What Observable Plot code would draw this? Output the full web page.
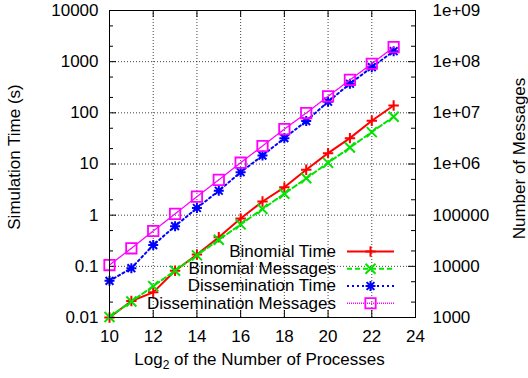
<!DOCTYPE html>
<html>
<head>
<meta charset="utf-8">
<script src="https://cdn.jsdelivr.net/npm/d3@7"></script>
<script src="https://cdn.jsdelivr.net/npm/@observablehq/plot@0.6"></script>
<style>
  html, body { margin: 0; padding: 0; background: #fff; }
  #chart svg { font-family: "Liberation Sans", Arial, Helvetica, sans-serif; }
</style>
</head>
<body>
<div id="chart"></div>
<script>
// log2 of the number of processes
const log2Procs = [10, 11, 12, 13, 14, 15, 16, 17, 18, 19, 20, 21, 22, 23];

// simulation time, seconds (left axis)
const binomialTime      = [0.01, 0.021, 0.031, 0.082, 0.17, 0.37, 0.86, 1.85, 3.5, 7.7, 16.3, 32, 70, 139];
const disseminationTime = [0.052, 0.092, 0.26, 0.61, 1.38, 3.0, 6.9, 14.6, 32, 69, 165, 370, 780, 1600];

// number of messages (right axis)
const binomialMessages      = [1020, 2050, 4100, 8200, 16400, 33000, 66000, 132000, 262000, 525000, 1.05e6, 2.1e6, 4.2e6, 8.4e6];
const disseminationMessages = [10600, 22500, 49000, 106000, 230000, 490000, 1.06e6, 2.25e6, 4.8e6, 9.9e6, 2.1e7, 4.4e7, 9.1e7, 1.92e8];

const seriesNames = ["Binomial Time", "Binomial Messages", "Dissemination Time", "Dissemination Messages"];

// axis ticks
const xTicks = [10, 12, 14, 16, 18, 20, 22, 24];
const timeTicks = [0.01, 0.1, 1, 10, 100, 1000, 10000];
const timeTickLabels = ["0.01", "0.1", "1", "10", "100", "1000", "10000"];
const messageTickLabels = ["1000", "10000", "100000", "1e+06", "1e+07", "1e+08", "1e+09"];
const minorTicks = [0.02, 0.05, 0.2, 0.5, 2, 5, 20, 50, 200, 500, 2000, 5000];

// the right axis reads 1e5 times the left one (1000 messages at 0.01 s)
const messagesPerSecondUnit = 1e5;

const xTitle = "Log2 of the Number of Processes";
const yTitle = "Simulation Time (s)";
const y2Title = "Number of Messages";

// ---- layout ----
const W = 528, H = 378;
const mL = 109, mR = 113, mT = 10, mB = 61;
const plotW = W - mL - mR, plotH = H - mT - mB;
const FONT = "Liberation Sans, Arial, Helvetica, sans-serif";

// gnuplot-like point shapes
function symbolPath(kind) {
  return {
    draw(ctx, size) {
      const r = Math.sqrt(size / Math.PI);
      if (kind === "plus" || kind === "star") {
        ctx.moveTo(-r, 0); ctx.lineTo(r, 0);
        ctx.moveTo(0, -r); ctx.lineTo(0, r);
      }
      if (kind === "times" || kind === "star") {
        const t = kind === "star" ? r * 0.78 : r;
        ctx.moveTo(-t, -t); ctx.lineTo(t, t);
        ctx.moveTo(-t, t); ctx.lineTo(t, -t);
      }
      if (kind === "square") {
        ctx.moveTo(-r, -r); ctx.lineTo(r, -r); ctx.lineTo(r, r); ctx.lineTo(-r, r); ctx.closePath();
      }
    }
  };
}

const styles = {
  "Binomial Time":          {stroke: "#ff0000", dash: null,  width: 2,   symbol: "plus",   r: 5.2, sw: 2},
  "Binomial Messages":      {stroke: "#00e400", dash: "5,3", width: 2,   symbol: "times",  r: 5,   sw: 2},
  "Dissemination Time":     {stroke: "#0000ff", dash: "2,3", width: 2,   symbol: "star",   r: 5,   sw: 2},
  "Dissemination Messages": {stroke: "#ff00ff", dash: "1,1", width: 1.3, symbol: "square", r: 5.2, sw: 1.8}
};

// table of points, messages expressed on the time scale
const seriesValues = [binomialTime, binomialMessages, disseminationTime, disseminationMessages];
const rows = [];
seriesNames.forEach((name, s) => {
  const isMsg = name.endsWith("Messages");
  seriesValues[s].forEach((v, i) => {
    rows.push({series: name, n: log2Procs[i], value: v, y: isMsg ? v / messagesPerSecondUnit : v});
  });
});

const seriesMarks = [];
for (const name of seriesNames) {
  const st = styles[name];
  const data = rows.filter(d => d.series === name);
  seriesMarks.push(Plot.line(data, {
    x: "n", y: "y", stroke: st.stroke, strokeWidth: st.width,
    strokeDasharray: st.dash, curve: "linear"
  }));
  seriesMarks.push(Plot.dot(data, {
    x: "n", y: "y", stroke: st.stroke, strokeWidth: st.sw, fill: "none",
    symbol: symbolPath(st.symbol), r: st.r
  }));
}

const tickStyle = {stroke: "#000", strokeWidth: 1};

const svg = Plot.plot({
  width: W, height: H,
  marginLeft: mL, marginRight: mR, marginTop: mT, marginBottom: mB,
  style: {fontFamily: FONT, fontSize: "17px", color: "#000", background: "#fff", overflow: "visible"},
  x: {domain: [10, 24]},
  y: {type: "log", domain: [0.01, 10000]},
  marks: [
    Plot.gridX(xTicks.slice(1, -1), {stroke: "#000", strokeOpacity: 0.75, strokeDasharray: "1,2", strokeWidth: 1}),
    Plot.gridY(timeTicks.slice(1, -1), {stroke: "#000", strokeOpacity: 0.75, strokeDasharray: "1,2", strokeWidth: 1}),
    // inward ticks on all four sides
    Plot.ruleY(timeTicks, {...tickStyle, insetRight: plotW - 7}),
    Plot.ruleY(timeTicks, {...tickStyle, insetLeft: plotW - 7}),
    Plot.ruleY(minorTicks, {...tickStyle, insetRight: plotW - 4}),
    Plot.ruleY(minorTicks, {...tickStyle, insetLeft: plotW - 4}),
    Plot.ruleX(xTicks, {...tickStyle, insetTop: plotH - 7}),
    Plot.ruleX(xTicks, {...tickStyle, insetBottom: plotH - 7}),
    Plot.axisY(timeTicks, {anchor: "left", tickSize: 0, tickPadding: 11, label: null,
      tickFormat: d => timeTickLabels[timeTicks.indexOf(d)]}),
    Plot.axisY(timeTicks, {anchor: "right", tickSize: 0, tickPadding: 17, label: null,
      tickFormat: d => messageTickLabels[timeTicks.indexOf(d)]}),
    Plot.axisX(xTicks, {anchor: "bottom", tickSize: 0, tickPadding: 12, label: null}),
    ...seriesMarks,
    Plot.frame({stroke: "#000", strokeWidth: 1}),
    Plot.text([yTitle], {text: d => d, frameAnchor: "left", rotate: -90, dx: -94.5, dy: -7,
      textAnchor: "middle", lineAnchor: "middle", fontSize: 17}),
    Plot.text([y2Title], {text: d => d, frameAnchor: "right", rotate: -90, dx: 104.5, dy: -5.5,
      textAnchor: "middle", lineAnchor: "middle", fontSize: 17}),
    Plot.text([xTitle], {text: d => d, frameAnchor: "bottom", dx: -3, dy: 35,
      textAnchor: "middle", lineAnchor: "top", fontSize: 17})
  ]
});

// subscript in the x title
d3.select(svg).selectAll("text").filter(function () { return this.textContent === xTitle; })
  .each(function () {
    const t = d3.select(this);
    t.text(null);
    t.append("tspan").text("Log");
    t.append("tspan").attr("dy", 4.5).attr("font-size", 12).text("2");
    t.append("tspan").attr("dy", -4.5).text(" of the Number of Processes");
  });

// key, placed inside the lower right corner of the frame
const key = d3.select(svg).append("g").attr("font-family", FONT).attr("font-size", 17);
const keyTextRight = W - mR - 79;
const keyLineX1 = W - mR - 68, keyLineX2 = W - mR - 21;
const keyTop = H - mB - 65.5, keyStep = 17.25;
seriesNames.forEach((name, i) => {
  const st = styles[name];
  const yy = keyTop + i * keyStep;
  key.append("text").attr("x", keyTextRight).attr("y", yy).attr("dy", "0.32em")
    .attr("text-anchor", "end").attr("fill", "#000").text(name);
  key.append("line").attr("x1", keyLineX1).attr("x2", keyLineX2).attr("y1", yy).attr("y2", yy)
    .attr("stroke", st.stroke).attr("stroke-width", st.width)
    .attr("stroke-dasharray", st.dash);
  const p = d3.path();
  symbolPath(st.symbol).draw(p, Math.PI * st.r * st.r);
  key.append("path").attr("d", p.toString())
    .attr("transform", `translate(${(keyLineX1 + keyLineX2) / 2},${yy})`)
    .attr("fill", "none").attr("stroke", st.stroke).attr("stroke-width", st.sw);
});

document.getElementById("chart").appendChild(svg);
</script>
</body>
</html>
